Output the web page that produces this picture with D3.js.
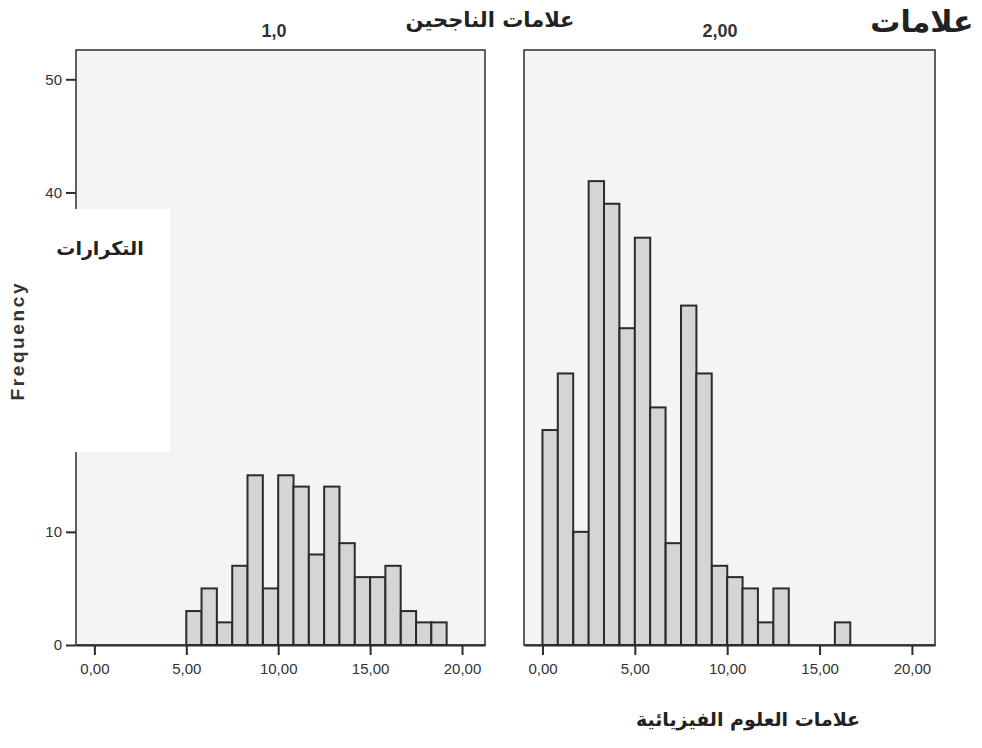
<!DOCTYPE html>
<html>
<head>
<meta charset="utf-8">
<script src="https://cdn.jsdelivr.net/npm/d3@7"></script>
<style>
  html, body { margin: 0; padding: 0; background: #ffffff; }
  svg { display: block; }
</style>
</head>
<body>
<script>
// ---------------- data ----------------
const panelLabels = ["1,0", "2,00"];
const binWidth = 0.8333;
// lower edges of the bins (marks out of 20)
const leftBinStarts  = [5.00, 5.83, 6.67, 7.50, 8.33, 9.17, 10.00, 10.83, 11.67, 12.50, 13.33, 14.17, 15.00, 15.83, 16.67, 17.50, 18.33];
const leftCounts     = [3, 5, 2, 7, 15, 5, 15, 14, 8, 14, 9, 6, 6, 7, 3, 2, 2];
const rightBinStarts = [0.00, 0.83, 1.67, 2.50, 3.33, 4.17, 5.00, 5.83, 6.67, 7.50, 8.33, 9.17, 10.00, 10.83, 11.67, 12.50, 15.83];
const rightCounts    = [19, 24, 10, 41, 39, 28, 36, 21, 9, 30, 24, 7, 6, 5, 2, 5, 2];
const xTickValues = [0, 5, 10, 15, 20];
const yTickValues = [0, 10, 40, 50];
const titleTop = "علامات الناجحين";
const titleTopRight = "علامات";
const yTitleAr = "التكرارات";
const yTitleEn = "Frequency";
const xTitleAr = "علامات العلوم الفيزيائية";

// ---------------- layout ----------------
const W = 982, H = 748;
const plotTop = 50, plotBottom = 645;
const panels = [
  { label: panelLabels[0], x0: 76,  x1: 485, starts: leftBinStarts,  counts: leftCounts },
  { label: panelLabels[1], x0: 524, x1: 935, starts: rightBinStarts, counts: rightCounts }
];

const svg = d3.select("body").append("svg").attr("width", W).attr("height", H);
svg.append("rect").attr("width", W).attr("height", H).attr("fill", "#ffffff");

const y = d3.scaleLinear().domain([0, 50]).range([plotBottom, 79.3]);
const fmt = d => d3.format(".2f")(d).replace(".", ",");
const ink = "#2b2b2b";

panels.forEach((p, i) => {
  const x = d3.scaleLinear().domain([-1, 21.25]).range([p.x0, p.x1]);
  const g = svg.append("g");
  // panel background + frame
  g.append("rect")
    .attr("x", p.x0).attr("y", plotTop)
    .attr("width", p.x1 - p.x0).attr("height", plotBottom - plotTop)
    .attr("fill", "#f4f4f4").attr("stroke", "#3a3a3a").attr("stroke-width", 1.6);
  // bars
  const data = p.starts.map((s, k) => ({ s, c: p.counts[k] }));
  g.selectAll("rect.bar").data(data).enter().append("rect")
    .attr("class", "bar")
    .attr("x", d => x(d.s))
    .attr("width", d => x(d.s + binWidth) - x(d.s))
    .attr("y", d => y(d.c))
    .attr("height", d => y(0) - y(d.c))
    .attr("fill", "#d5d5d5").attr("stroke", ink).attr("stroke-width", 2);
  // x axis
  const xa = g.append("g").attr("transform", `translate(0,${plotBottom})`)
    .call(d3.axisBottom(x).tickValues(xTickValues).tickFormat(fmt).tickSize(10).tickSizeOuter(0).tickPadding(8));
  xa.select(".domain").attr("stroke", ink).attr("stroke-width", 2);
  xa.selectAll(".tick line").attr("stroke", ink).attr("stroke-width", 2);
  xa.selectAll(".tick text").attr("fill", "#333").attr("font-size", 15)
    .attr("font-family", "'Liberation Sans', Arial, sans-serif");
  // panel label
  svg.append("text").attr("x", i === 0 ? 274 : 720).attr("y", 37)
    .attr("text-anchor", "middle").attr("font-size", 18).attr("font-weight", "bold")
    .attr("fill", "#333").attr("font-family", "'Liberation Sans', Arial, sans-serif")
    .text(p.label);
  if (i === 0) {
    const ya = g.append("g").attr("transform", `translate(${p.x0},0)`)
      .call(d3.axisLeft(y).tickValues(yTickValues).tickSize(10).tickSizeOuter(0).tickPadding(4));
    ya.select(".domain").remove();
    ya.selectAll(".tick line").attr("stroke", ink).attr("stroke-width", 2);
    ya.selectAll(".tick text").attr("fill", "#333").attr("font-size", 15)
      .attr("font-family", "'Liberation Sans', Arial, sans-serif");
    // pasted-over white patch seen in the original scan
    g.append("rect").attr("x", 66).attr("y", 209).attr("width", 104).attr("height", 243)
      .attr("fill", "#ffffff");
  }
});

// titles
const arFont = "'DejaVu Sans', 'Noto Sans', sans-serif";
svg.append("text").attr("x", 490).attr("y", 27).attr("text-anchor", "middle")
  .attr("font-family", arFont).attr("font-weight", "bold").attr("font-size", 21)
  .attr("fill", "#222").text(titleTop);
svg.append("text").attr("x", 922).attr("y", 32).attr("text-anchor", "middle")
  .attr("font-family", arFont).attr("font-weight", "bold").attr("font-size", 30)
  .attr("fill", "#222").text(titleTopRight);
svg.append("text").attr("x", 100).attr("y", 255).attr("text-anchor", "middle")
  .attr("font-family", arFont).attr("font-weight", "bold").attr("font-size", 19)
  .attr("fill", "#222").text(yTitleAr);
svg.append("text").attr("x", 748).attr("y", 726).attr("text-anchor", "middle")
  .attr("font-family", arFont).attr("font-weight", "bold").attr("font-size", 19)
  .attr("fill", "#222").text(xTitleAr);
svg.append("text").attr("transform", "translate(24,342) rotate(-90)")
  .attr("text-anchor", "middle")
  .attr("font-family", "'Liberation Sans', Arial, sans-serif").attr("font-weight", "bold")
  .attr("font-size", 19).attr("fill", "#333")
  .attr("textLength", 117).attr("lengthAdjust", "spacing")
  .text(yTitleEn);
</script>
</body>
</html>
